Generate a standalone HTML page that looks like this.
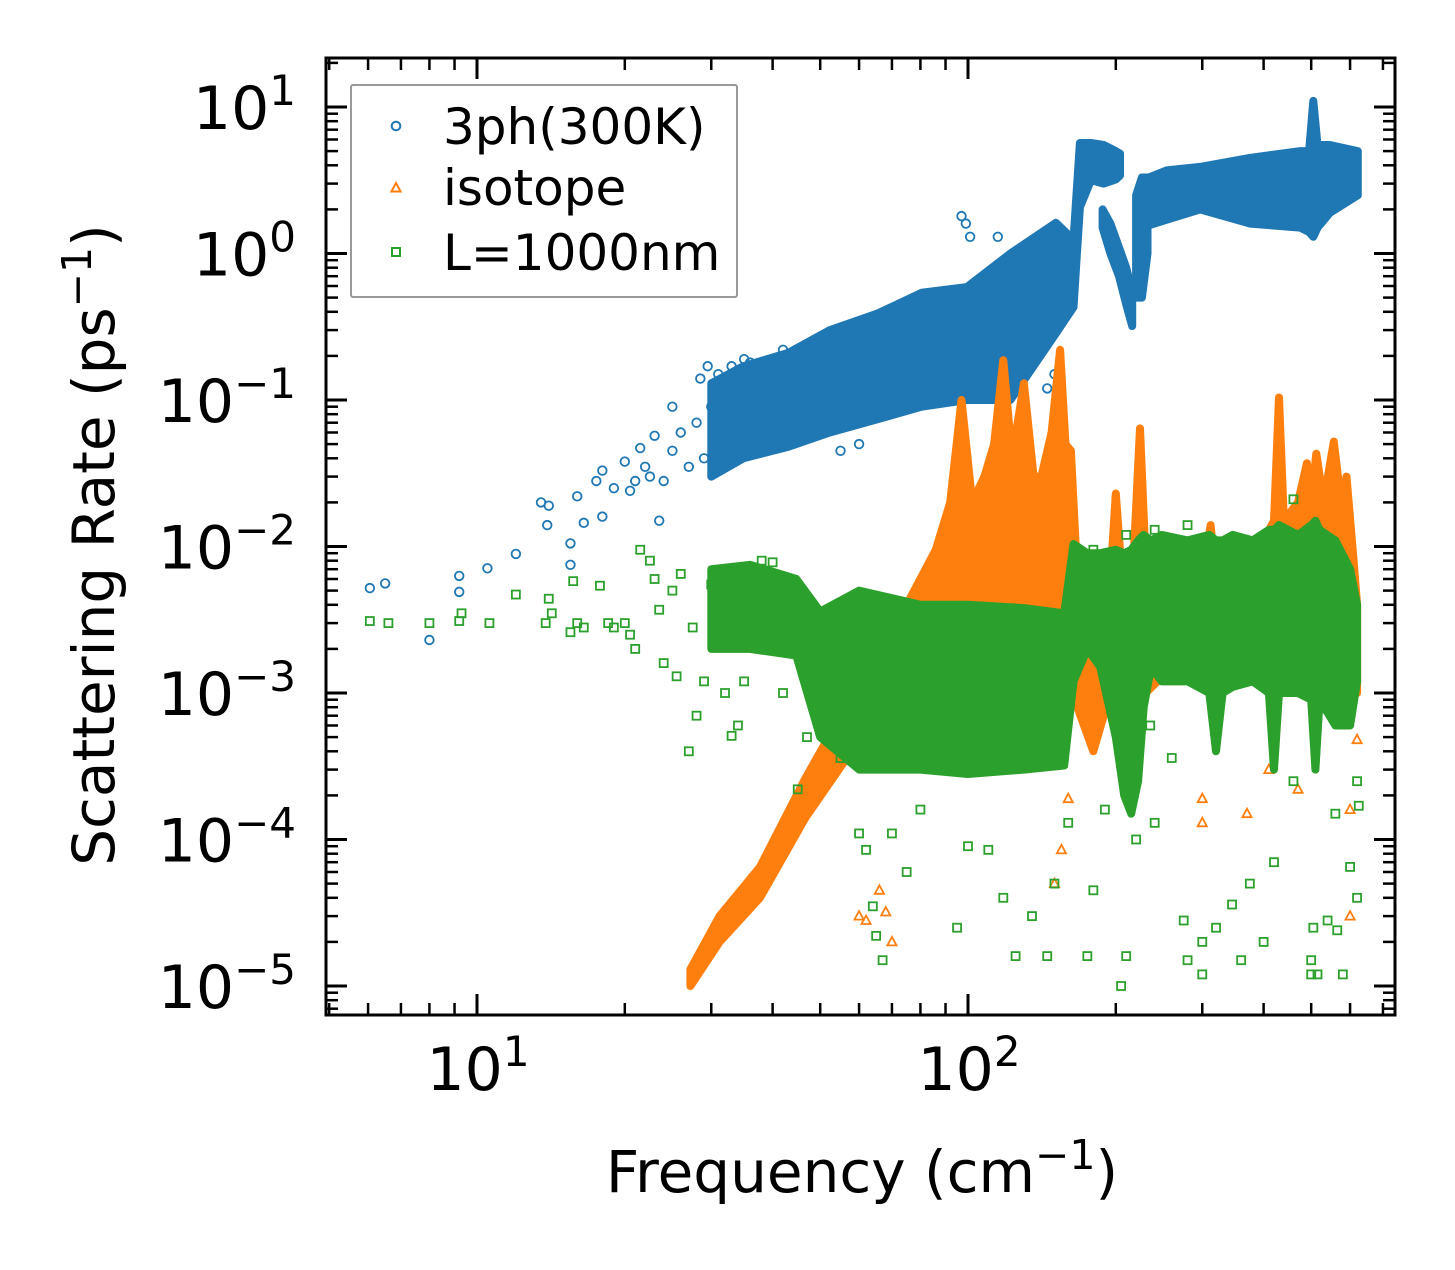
<!DOCTYPE html>
<html><head><meta charset="utf-8"><style>
body{margin:0;background:#fff;position:relative;}
svg text{font-family:"DejaVu Sans","Liberation Sans",sans-serif;fill:#000;}
</style></head><body>
<svg id="chart" width="1455" height="1265" viewBox="0 0 1455 1265" xmlns="http://www.w3.org/2000/svg">
<g id="marks"></g>
<g id="axes"></g>
</svg>
<script>
// ---- data ----
const blueBandF  = [30,34.9,43.1,52.3,65.5,80.5,99.5,122,151,164,169,178,189,200,204];
const blueBandLo = [0.03,0.04,0.048,0.06,0.074,0.09,0.1,0.1,0.285,0.43,2.07,3.17,3.0,3.2,3.4];
const blueBandHi = [0.13,0.17,0.21,0.3,0.39,0.54,0.59,1.0,1.62,1.24,5.68,5.68,5.5,5.0,4.8];
const blueDipF  = [188,195,203,210,216];
const blueDipLo = [1.5,1.0,0.7,0.45,0.32];
const blueDipHi = [2.0,1.6,1.1,0.8,0.55];
const blueColF  = [220,226,232];
const blueColLo = [0.5,0.5,1.0];
const blueColHi = [2.5,3.3,3.3];
const blueBand2F  = [228,254,297,376,475,495,505,515,546,622];
const blueBand2Lo = [1.52,1.7,2.0,1.6,1.5,1.4,1.3,1.5,1.9,2.5];
const blueBand2Hi = [3.2,3.7,3.9,4.5,5.0,5.0,11,5.5,5.5,5.0];
const blueF = [6.05,6.5,8.0,9.2,9.2,10.5,12,13.5,14,13.9,15.5,15.5,16,16.5,17.5,18,18,19,20,20.5,21,21.5,22,22.5,23,23.5,24,25,25,26,27,28,28.5,29,29.5,30,31,32,33,34,35,36,38,40,42,44,47,55,60,65,97,99,101,115,130,150,145,120,163];
const blueR = [0.0052,0.0056,0.0023,0.0063,0.0049,0.0071,0.0089,0.02,0.019,0.014,0.0105,0.0075,0.022,0.0145,0.028,0.033,0.016,0.025,0.038,0.024,0.028,0.047,0.035,0.03,0.057,0.015,0.028,0.09,0.045,0.06,0.035,0.07,0.14,0.04,0.17,0.09,0.15,0.12,0.17,0.16,0.19,0.18,0.13,0.1,0.22,0.16,0.21,0.045,0.05,0.08,1.8,1.6,1.3,1.3,1.1,0.15,0.12,0.12,0.7];
const orangeBandF  = [27.2,31.2,37.7,46.6,56.3,65,75,86,92,97,102,108,113,118,123,130,136,141,148,154,158,162,167,180,195,200,206,218,224,230,260,300,312,320,380,420,430,440,470,490,500,512,530,556,575,590,610,620];
const orangeBandLo = [1e-5,2e-5,4e-5,1.4e-4,3.5e-4,5e-4,6e-4,8e-4,1e-3,1e-3,1e-3,1e-3,1e-3,1e-3,1e-3,1e-3,1e-3,1e-3,1e-3,1e-3,1e-3,1e-3,8e-4,4e-4,1e-3,1e-3,1e-3,1e-3,1e-3,1e-3,1.5e-3,1.5e-3,1.5e-3,1.5e-3,1.5e-3,1.5e-3,1.5e-3,1.5e-3,1.5e-3,1.5e-3,1.5e-3,1.5e-3,1.5e-3,1.5e-3,1.5e-3,1.5e-3,1e-3,1e-3];
const orangeBandHi = [1.3e-5,3e-5,6.5e-5,2.6e-4,8e-4,2e-3,4e-3,0.0095,0.02,0.1,0.02,0.03,0.05,0.187,0.04,0.13,0.03,0.03,0.06,0.22,0.05,0.045,0.006,0.004,0.006,0.023,0.006,0.01,0.064,0.008,0.006,0.006,0.014,0.006,0.008,0.015,0.104,0.015,0.02,0.037,0.02,0.043,0.02,0.052,0.02,0.03,0.008,0.004];
const orangeF = [60,62,66,68,70,150,155,160,300,300,370,410,470,600,620,600];
const orangeR = [3e-5,2.8e-5,4.5e-5,3.2e-5,2e-5,5e-5,8.5e-5,1.9e-4,1.9e-4,1.3e-4,1.5e-4,3e-4,2.2e-4,3e-5,4.8e-4,1.6e-4];
const greenBandF  = [30,36,44.7,50,60,80,100,130,157,164,175,186,200,208,215,222,228,236,248,280,310,320,330,346,380,410,420,430,470,500,510,520,560,600,620];
const greenBandLo = [2e-3,2e-3,1.8e-3,5e-4,3e-4,3e-4,2.8e-4,3e-4,3.2e-4,1.2e-3,2e-3,1.5e-3,5e-4,2e-4,1.5e-4,2.5e-4,8e-4,1.5e-3,1.2e-3,1.2e-3,1e-3,4e-4,1e-3,1.1e-3,1.2e-3,1e-3,3e-4,1e-3,1e-3,9e-4,3e-4,9e-4,6e-4,6e-4,1.2e-3];
const greenBandHi = [7e-3,7.5e-3,6e-3,3.6e-3,5e-3,4e-3,4e-3,3.8e-3,3.5e-3,0.0104,0.009,0.009,0.0095,0.009,0.0095,0.011,0.012,0.011,0.012,0.011,0.012,0.011,0.011,0.012,0.011,0.013,0.013,0.014,0.012,0.014,0.015,0.013,0.011,0.007,0.004];
const greenF = [6.05,6.6,8,9.2,9.3,10.6,12,13.8,14,14.2,15.5,15.7,16,16.5,17.8,18.5,19,20,20.5,21.5,21,22.5,23,23.5,24,25,25.5,26,27,27.5,28,29,30,32,33,34,35,38,40,42,45,47,55,60,62,64,65,67,70,75,80,95,100,110,118,125,135,145,150,160,175,180,190,205,210,220,235,240,260,275,280,300,300,320,345,360,375,400,420,460,500,500,505,515,540,560,565,580,600,620,620,625,240,210,180,460,280];
const greenR = [3.1e-3,3e-3,3e-3,3.1e-3,3.5e-3,3e-3,4.7e-3,3e-3,4.4e-3,3.5e-3,2.6e-3,5.8e-3,3e-3,2.8e-3,5.4e-3,3e-3,2.8e-3,3e-3,2.5e-3,9.5e-3,2e-3,8e-3,6e-3,3.7e-3,1.6e-3,5e-3,1.3e-3,6.5e-3,4e-4,2.8e-3,7e-4,1.2e-3,5.5e-3,1e-3,5.1e-4,6e-4,1.2e-3,8e-3,7.8e-3,1e-3,2.2e-4,5e-4,3.6e-4,1.1e-4,8.5e-5,3.5e-5,2.2e-5,1.5e-5,1.1e-4,6e-5,1.6e-4,2.5e-5,9e-5,8.5e-5,4e-5,1.6e-5,3e-5,1.6e-5,5e-5,1.3e-4,1.6e-5,4.5e-5,1.6e-4,1e-5,1.6e-5,1e-4,6e-4,1.3e-4,3.6e-4,2.8e-5,1.5e-5,2e-5,1.2e-5,2.5e-5,3.6e-5,1.5e-5,5e-5,2e-5,7e-5,2.5e-4,1.5e-5,1.2e-5,2.5e-5,1.2e-5,2.8e-5,1.5e-4,2.4e-5,1.2e-5,6.5e-5,4e-5,2.5e-4,1.7e-4,0.013,0.012,0.0095,0.021,0.014];
const xTicks = [10,100];
const yTicks = [1e1,1e0,1e-1,1e-2,1e-3,1e-4,1e-5];
const yTickExp = ["1","0","\u22121","\u22122","\u22123","\u22124","\u22125"];
const xTickExp = ["1","2"];

// ---- axes ----
const L=326,R=1395,T=58,B=1015;
const X = f => 477 + 491*(Math.log10(f)-1);
const Y = r => 107 - 146.5*(Math.log10(r)-1);
const NS="http://www.w3.org/2000/svg";
function mk(tag,attrs,parent){const e=document.createElementNS(NS,tag);for(const k in attrs)e.setAttribute(k,attrs[k]);parent.appendChild(e);return e;}
const marks=document.getElementById('marks'), axes=document.getElementById('axes');
const C={blue:"#1f77b4",orange:"#ff7f0e",green:"#2ca02c"};

function band(F,Lo,Hi,color,name){
  let pts=F.map((f,i)=>X(f).toFixed(1)+","+Y(Hi[i]).toFixed(1));
  for(let i=F.length-1;i>=0;i--)pts.push(X(F[i]).toFixed(1)+","+Y(Lo[i]).toFixed(1));
  const p=mk('polygon',{points:pts.join(" "),fill:color,stroke:color,'stroke-width':8,'stroke-linejoin':'round'},marks);
  
  
}
function marker(type,x,y,color,parent){
  let e;
  if(type==='o') e=mk('circle',{cx:x,cy:y,r:4.3,fill:'none',stroke:color,'stroke-width':1.8},parent);
  else if(type==='^') e=mk('polygon',{points:`${x},${y-5} ${x-4.6},${y+3.5} ${x+4.6},${y+3.5}`,fill:'none',stroke:color,'stroke-width':1.8},parent);
  else e=mk('rect',{x:x-4,y:y-4,width:8,height:8,fill:'none',stroke:color,'stroke-width':1.8},parent);
  return e;
}
function pts(F,Rr,type,color,name){
  F.forEach((f,i)=>{const e=marker(type,X(f),Y(Rr[i]),color,marks);
    
    });
}
band(blueBandF,blueBandLo,blueBandHi,C.blue,'3ph-dense-band');
band(blueDipF,blueDipLo,blueDipHi,C.blue,'3ph-dip-band');
band(blueColF,blueColLo,blueColHi,C.blue,'3ph-column-band');
band(blueBand2F,blueBand2Lo,blueBand2Hi,C.blue,'3ph-dense-band-high');
pts(blueF,blueR,'o',C.blue,'3ph-point');
band(orangeBandF,orangeBandLo,orangeBandHi,C.orange,'isotope-dense-band');
pts(orangeF,orangeR,'^',C.orange,'isotope-point');
band(greenBandF,greenBandLo,greenBandHi,C.green,'boundary-dense-band');
pts(greenF,greenR,'s',C.green,'boundary-point');

const fr=mk('rect',{x:L,y:T,width:R-L,height:B-T,fill:'none',stroke:'#000','stroke-width':3},axes);


for(let d=0;d<=2;d++){for(let m=1;m<=9;m++){const f=m*Math.pow(10,d);const x=X(f);if(x<L||x>R)continue;
  const len=m===1?21:12;
  mk('line',{x1:x,y1:B,x2:x,y2:B-len,stroke:'#000','stroke-width':m===1?3:2.5},axes);
  mk('line',{x1:x,y1:T,x2:x,y2:T+len,stroke:'#000','stroke-width':m===1?3:2.5},axes);}}
for(let d=-6;d<=1;d++){for(let m=1;m<=9;m++){const r=m*Math.pow(10,d);const y=Y(r);if(y<T||y>B)continue;
  const len=m===1?21:12;
  mk('line',{x1:L,y1:y,x2:L+len,y2:y,stroke:'#000','stroke-width':m===1?3:2.5},axes);
  mk('line',{x1:R,y1:y,x2:R-len,y2:y,stroke:'#000','stroke-width':m===1?3:2.5},axes);}}
xTicks.forEach((f,i)=>{const t=mk('text',{x:X(f)+1,y:1090,'font-size':60,'text-anchor':'middle'},axes);
  
  
  t.innerHTML=`10<tspan dy="-24" font-size="42">${xTickExp[i]}</tspan>`;});
yTicks.forEach((r,i)=>{const t=mk('text',{x:296,y:Y(r)+22,'font-size':60,'text-anchor':'end'},axes);
  
  
  t.innerHTML=`10<tspan dy="-24" font-size="42">${yTickExp[i]}</tspan>`;});
</script>
<svg style="position:absolute;left:0;top:0" width="1455" height="1265" xmlns="http://www.w3.org/2000/svg">
<text x="862" y="1192" font-size="58" text-anchor="middle">Frequency (cm<tspan dy="-23" font-size="41">−1</tspan><tspan dy="23">)</tspan></text>
<text transform="translate(114,545) rotate(-90)" font-size="58" text-anchor="middle">Scattering Rate (ps<tspan dy="-23" font-size="41">−1</tspan><tspan dy="23">)</tspan></text>
<g>
<rect x="351" y="85" width="386" height="212" fill="#fff" stroke="#999" stroke-width="2" rx="2"/>
<g>
<circle cx="396" cy="126" r="4.3" fill="none" stroke="#1f77b4" stroke-width="2"/>
<text x="443" y="144" font-size="50">3ph(300K)</text></g>
<g>
<polygon points="396,183 391.4,191.5 400.6,191.5" fill="none" stroke="#ff7f0e" stroke-width="2"/>
<text x="443" y="205" font-size="50">isotope</text></g>
<g>
<rect x="392" y="248" width="8" height="8" fill="none" stroke="#2ca02c" stroke-width="2"/>
<text x="443" y="270" font-size="50">L=1000nm</text></g>
</g>
</svg>
</body></html>
